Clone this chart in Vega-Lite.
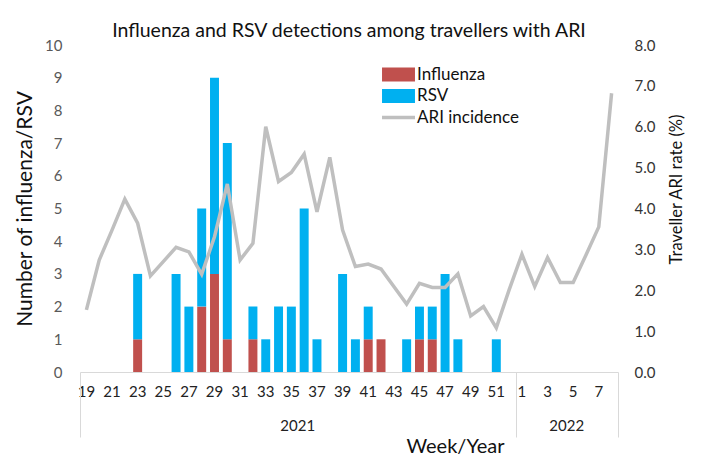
{
  "$schema": "https://vega.github.io/schema/vega-lite/v6.json",
  "width": 538,
  "height": 327,
  "autosize": {"type": "none"},
  "padding": {"left": 80, "top": 45, "right": 91, "bottom": 88},
  "background": "#ffffff",
  "title": {
    "text": "Influenza and RSV detections among travellers with ARI",
    "fontSize": 19.5,
    "font": "Lato",
    "fontWeight": "normal",
    "color": "#111111",
    "anchor": "middle",
    "frame": "group",
    "offset": -3
  },
  "datasets": {
    "counts": [
      {"week": "23", "series": "Influenza", "n": 1}, {"week": "23", "series": "RSV", "n": 2},
      {"week": "26", "series": "RSV", "n": 3},
      {"week": "27", "series": "RSV", "n": 2},
      {"week": "28", "series": "Influenza", "n": 2}, {"week": "28", "series": "RSV", "n": 3},
      {"week": "29", "series": "Influenza", "n": 3}, {"week": "29", "series": "RSV", "n": 6},
      {"week": "30", "series": "Influenza", "n": 1}, {"week": "30", "series": "RSV", "n": 6},
      {"week": "32", "series": "Influenza", "n": 1}, {"week": "32", "series": "RSV", "n": 1},
      {"week": "33", "series": "RSV", "n": 1},
      {"week": "34", "series": "RSV", "n": 2},
      {"week": "35", "series": "RSV", "n": 2},
      {"week": "36", "series": "RSV", "n": 5},
      {"week": "37", "series": "RSV", "n": 1},
      {"week": "39", "series": "RSV", "n": 3},
      {"week": "40", "series": "RSV", "n": 1},
      {"week": "41", "series": "Influenza", "n": 1}, {"week": "41", "series": "RSV", "n": 1},
      {"week": "42", "series": "Influenza", "n": 1},
      {"week": "44", "series": "RSV", "n": 1},
      {"week": "45", "series": "Influenza", "n": 1}, {"week": "45", "series": "RSV", "n": 1},
      {"week": "46", "series": "Influenza", "n": 1}, {"week": "46", "series": "RSV", "n": 1},
      {"week": "47", "series": "RSV", "n": 3},
      {"week": "48", "series": "RSV", "n": 1},
      {"week": "51", "series": "RSV", "n": 1}
    ],
    "rates": [
      {"week": "19", "rate": 1.52}, {"week": "20", "rate": 2.74}, {"week": "21", "rate": 3.47},
      {"week": "22", "rate": 4.23}, {"week": "23", "rate": 3.64}, {"week": "24", "rate": 2.35},
      {"week": "25", "rate": 2.70}, {"week": "26", "rate": 3.05}, {"week": "27", "rate": 2.94},
      {"week": "28", "rate": 2.39}, {"week": "29", "rate": 3.31}, {"week": "30", "rate": 4.60},
      {"week": "31", "rate": 2.74}, {"week": "32", "rate": 3.15}, {"week": "33", "rate": 6.00},
      {"week": "34", "rate": 4.66}, {"week": "35", "rate": 4.88}, {"week": "36", "rate": 5.33},
      {"week": "37", "rate": 3.92}, {"week": "38", "rate": 5.25}, {"week": "39", "rate": 3.47},
      {"week": "40", "rate": 2.58}, {"week": "41", "rate": 2.64}, {"week": "42", "rate": 2.52},
      {"week": "43", "rate": 2.09}, {"week": "44", "rate": 1.66}, {"week": "45", "rate": 2.17},
      {"week": "46", "rate": 2.07}, {"week": "47", "rate": 2.07}, {"week": "48", "rate": 2.40},
      {"week": "49", "rate": 1.37}, {"week": "50", "rate": 1.60}, {"week": "51", "rate": 1.08},
      {"week": "52", "rate": 2.01}, {"week": "1", "rate": 2.88}, {"week": "2", "rate": 2.09},
      {"week": "3", "rate": 2.80}, {"week": "4", "rate": 2.19}, {"week": "5", "rate": 2.19},
      {"week": "6", "rate": 2.86}, {"week": "7", "rate": 3.55}, {"week": "8", "rate": 6.82}
    ]
  },
  "layer": [
    {
      "data": {"name": "counts"},
      "mark": {"type": "bar"},
      "encoding": {
        "x": {
          "field": "week",
          "type": "ordinal",
          "scale": {
            "domain": ["19","20","21","22","23","24","25","26","27","28","29","30","31","32","33","34","35","36","37","38","39","40","41","42","43","44","45","46","47","48","49","50","51","52","1","2","3","4","5","6","7","8"],
            "paddingInner": 0.3,
            "paddingOuter": 0.15
          },
          "axis": {
            "orient": "bottom",
            "values": ["19","21","23","25","27","29","31","33","35","37","39","41","43","45","47","49","51","1","3","5","7"],
            "title": null,
            "labelAngle": 0,
            "labelOverlap": false,
            "ticks": false,
            "tickSize": 0,
            "domain": true,
            "domainColor": "#D9D9D9",
            "domainWidth": 1,
            "labelFontSize": 15,
            "labelColor": "#222222",
            "labelPadding": 12
          }
        },
        "y": {
          "field": "n",
          "type": "quantitative",
          "stack": "zero",
          "scale": {"domain": [0, 10], "nice": false},
          "axis": {
            "values": [0,1,2,3,4,5,6,7,8,9,10],
            "grid": false,
            "ticks": false,
            "tickSize": 0,
            "domain": false,
            "labelFontSize": 15,
            "labelColor": "#595959",
            "labelPadding": 18,
            "title": "Number of influenza/RSV",
            "titleFontSize": 21,
            "titleFontWeight": "normal",
            "titleColor": "#111111",
            "titlePadding": 9
          }
        },
        "order": {"field": "series", "sort": "ascending"},
        "color": {
          "field": "series",
          "type": "nominal",
          "scale": {
            "domain": ["Influenza", "RSV", "ARI incidence"],
            "range": ["#C0504D", "#00B0F0", "#BFBFBF"]
          },
          "legend": {
            "title": null,
            "orient": "none",
            "legendX": 310,
            "legendY": 21,
            "padding": 0,
            "symbolSize": 256,
            "labelOffset": 10,
            "labelFontSize": 17,
            "labelColor": "#111111",
            "rowPadding": 3.5,
            "encode": {
              "symbols": {
                "update": {
                  "shape": {"signal": "datum.value === 'ARI incidence' ? 'M-2.06,0H2.06' : 'M-2.06,-0.875H2.06V0.875H-2.06Z'"},
                  "fill": {"signal": "datum.value === 'Influenza' ? '#C0504D' : datum.value === 'RSV' ? '#00B0F0' : 'transparent'"},
                  "stroke": {"signal": "datum.value === 'ARI incidence' ? '#BFBFBF' : 'transparent'"},
                  "strokeWidth": {"signal": "datum.value === 'ARI incidence' ? 3.5 : 0"},
                  "opacity": {"value": 1}
                }
              }
            }
          }
        }
      }
    },
    {
      "data": {"name": "rates"},
      "mark": {"type": "line", "strokeWidth": 3.5},
      "encoding": {
        "x": {
          "field": "week",
          "type": "ordinal",
          "axis": {
            "orient": "bottom",
            "values": ["35", "4"],
            "labelExpr": "datum.value == '35' ? '2021' : '2022'",
            "labelOffset": 6.4,
            "labelAngle": 0,
            "ticks": false,
            "tickSize": 0,
            "domain": false,
            "labelFontSize": 15,
            "labelColor": "#222222",
            "labelPadding": 46,
            "title": "Week/Year",
            "titleFontSize": 20,
            "titleFontWeight": "normal",
            "titleColor": "#111111",
            "titleX": 375,
            "titleY": 80,
            "titleBaseline": "alphabetic"
          }
        },
        "y": {
          "field": "rate",
          "type": "quantitative",
          "scale": {"domain": [0, 8], "nice": false},
          "axis": {
            "orient": "right",
            "values": [0,1,2,3,4,5,6,7,8],
            "format": ".1f",
            "grid": false,
            "ticks": false,
            "tickSize": 0,
            "domain": false,
            "labelFontSize": 15,
            "labelColor": "#333333",
            "labelPadding": 16,
            "title": "Traveller ARI rate (%)",
            "titleFontSize": 16.5,
            "titleFontWeight": "normal",
            "titleColor": "#111111",
            "titleAngle": -90,
            "titlePadding": 30,
            "titleY": 144
          }
        },
        "color": {"datum": "ARI incidence", "type": "nominal"}
      }
    },
    {
      "data": {"name": "rates"},
      "mark": {"type": "rule", "opacity": 0},
      "encoding": {
        "x": {
          "field": "week",
          "type": "ordinal",
          "axis": {
            "orient": "bottom",
            "values": ["19", "1"],
            "bandPosition": 0,
            "tickOffset": -1.92,
            "labels": false,
            "domain": false,
            "ticks": true,
            "tickSize": 65,
            "tickColor": "#D9D9D9",
            "tickWidth": 1,
            "title": null
          }
        }
      }
    },
    {
      "data": {"name": "rates"},
      "mark": {"type": "rule", "opacity": 0},
      "encoding": {
        "x": {
          "field": "week",
          "type": "ordinal",
          "axis": {
            "orient": "bottom",
            "values": ["8"],
            "bandPosition": 1,
            "tickOffset": 1.92,
            "labels": false,
            "domain": false,
            "ticks": true,
            "tickSize": 65,
            "tickColor": "#D9D9D9",
            "tickWidth": 1,
            "title": null
          }
        }
      }
    }
  ],
  "resolve": {"scale": {"y": "independent"}, "axis": {"x": "independent"}},
  "config": {
    "font": "Lato",
    "view": {"stroke": null},
    "axis": {"labelFont": "Lato", "titleFont": "Lato"},
    "legend": {"labelFont": "Lato"}
  }
}
